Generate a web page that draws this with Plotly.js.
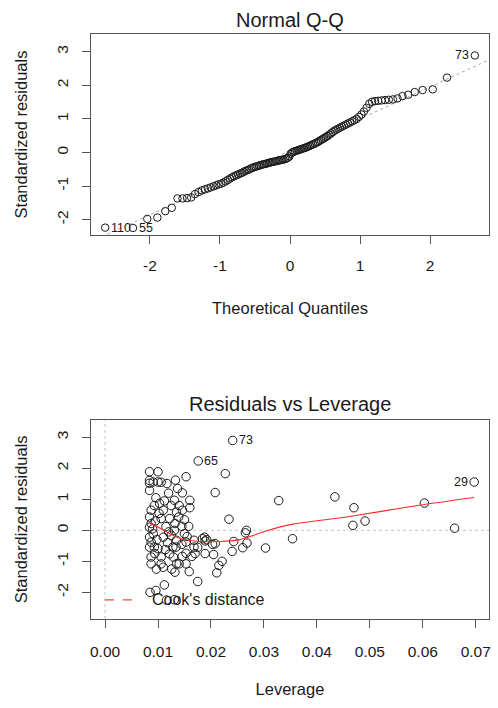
<!DOCTYPE html>
<html>
<head>
<meta charset="utf-8">
<script src="https://cdn.plot.ly/plotly-3.0.1.min.js"></script>
<style>html,body{margin:0;padding:0;background:#fff;}#chart{width:498px;height:708px;}</style>
</head>
<body>
<div id="chart"></div>
<script>
// ---------- Normal Q-Q data ----------
const qqTheo = [
-2.638,-2.241,-2.037,-1.893,-1.780,-1.687,-1.606,-1.534,-1.469,-1.410,
-1.356,-1.306,-1.258,-1.213,-1.171,-1.131,-1.092,-1.055,-1.019,-0.984,
-0.951,-0.918,-0.887,-0.856,-0.827,-0.798,-0.769,-0.742,-0.714,-0.688,
-0.662,-0.636,-0.611,-0.586,-0.561,-0.537,-0.513,-0.489,-0.466,-0.442,
-0.419,-0.396,-0.374,-0.351,-0.329,-0.307,-0.285,-0.264,-0.242,-0.220,
-0.199,-0.178,-0.157,-0.136,-0.115,-0.094,-0.073,-0.052,-0.031,-0.010,
0.010,0.031,0.052,0.073,0.094,0.115,0.136,0.157,0.178,0.199,
0.220,0.242,0.264,0.285,0.307,0.329,0.351,0.374,0.396,0.419,
0.442,0.466,0.489,0.513,0.537,0.561,0.586,0.611,0.636,0.662,
0.688,0.714,0.742,0.769,0.798,0.827,0.856,0.887,0.918,0.951,
0.984,1.019,1.055,1.092,1.131,1.171,1.213,1.258,1.306,1.356,
1.410,1.469,1.534,1.606,1.687,1.780,1.893,2.037,2.241,2.638
];
const qqResid = [
-2.24,-2.25,-1.98,-1.94,-1.75,-1.65,-1.37,-1.37,-1.36,-1.34,
-1.24,-1.18,-1.13,-1.10,-1.07,-1.04,-1.01,-0.98,-0.95,-0.93,
-0.90,-0.86,-0.82,-0.78,-0.74,-0.71,-0.68,-0.66,-0.63,-0.61,
-0.58,-0.55,-0.53,-0.51,-0.48,-0.46,-0.44,-0.42,-0.41,-0.39,
-0.38,-0.36,-0.35,-0.34,-0.33,-0.31,-0.30,-0.29,-0.28,-0.27,
-0.26,-0.25,-0.24,-0.23,-0.22,-0.21,-0.20,-0.18,-0.16,-0.12,
-0.04,0.00,0.02,0.04,0.05,0.07,0.08,0.10,0.11,0.13,
0.14,0.16,0.18,0.20,0.22,0.24,0.26,0.29,0.31,0.34,
0.37,0.40,0.43,0.46,0.49,0.53,0.57,0.61,0.65,0.68,
0.71,0.74,0.77,0.80,0.83,0.86,0.89,0.93,0.96,1.00,
1.06,1.13,1.22,1.33,1.45,1.51,1.53,1.54,1.55,1.56,
1.57,1.58,1.61,1.68,1.72,1.80,1.86,1.88,2.23,2.89
];
const qqLabelIndex = [0, 1, 119];
const qqLabelText = ['110', '55', '73'];
const qqLabelSide = ['right', 'right', 'left'];

// ---------- Residuals vs Leverage data ----------
const leverage = [
0.0241,0.0176,0.0227,0.0697,0.0153,0.0208,0.0328,0.0434,0.0470,0.0603,
0.0468,0.0491,0.0660,0.0234,0.0354,0.0303,0.0243,0.0240,0.0267,0.0265,
0.0268,0.0260,0.0208,0.0188,0.0192,0.0189,0.0205,0.0221,0.0215,0.0211,
0.0175,0.0159,0.0132,0.0112,0.0096,0.0085,0.0116,0.0131,0.0084,0.0100,
0.0084,0.0091,0.0100,0.0106,0.0117,0.0084,0.0137,0.0084,0.0133,0.0146,
0.0160,0.0131,0.0103,0.0087,0.0084,0.0110,0.0106,0.0122,0.0135,0.0132,
0.0087,0.0091,0.0084,0.0087,0.0093,0.0084,0.0110,0.0125,0.0135,0.0128,
0.0122,0.0100,0.0087,0.0106,0.0106,0.0087,0.0110,0.0129,0.0135,0.0160,
0.0146,0.0139,0.0150,0.0158,0.0145,0.0131,0.0150,0.0153,0.0168,0.0168,
0.0134,0.0153,0.0164,0.0146,0.0140,0.0153,0.0184,0.0189,0.0203,0.0095,
0.0090,0.0084,0.0098,0.0094,0.0115,0.0120,0.0118,0.0102,0.0096,0.0093,
0.0112,0.0125,0.0140,0.0120,0.0114,0.0097,0.0126,0.0145,0.0155,0.0175,
0.0170
];
const stdResid = [
2.90,2.24,1.83,1.56,1.73,1.22,0.96,1.08,0.73,0.88,
0.16,0.30,0.07,0.36,-0.27,-0.57,-0.36,-0.68,0.00,-0.08,
-0.41,-0.56,-0.43,-0.22,-0.30,-0.75,-0.78,-1.00,-1.13,-1.37,
-1.65,-1.33,-1.35,-1.76,-1.94,-2.00,-2.25,-2.24,1.89,1.89,
1.61,1.56,1.56,1.55,1.51,1.52,1.35,1.29,1.62,1.21,
0.97,0.97,0.87,0.65,0.43,0.65,0.38,0.38,0.59,0.22,
0.22,-0.11,-0.22,-0.38,-0.54,-0.54,-0.22,-0.16,-0.32,-0.54,
-0.76,-0.59,-0.86,-0.86,-1.08,-1.08,-1.19,-0.86,-1.08,0.73,
0.65,0.43,0.34,0.13,0.13,0.00,-0.11,-0.38,-0.32,-0.54,
-0.54,-0.74,-0.84,-0.84,-1.08,-1.08,-0.27,-0.34,-0.45,0.30,
0.05,0.10,-0.30,-0.75,0.12,-0.05,-0.40,0.55,1.05,0.80,
0.95,0.80,0.80,1.20,-0.62,-1.25,-1.25,-0.45,-0.20,-0.55,
-0.75
];
const levLabelIndex = [0, 1, 3];
const levLabelText = ['73', '65', '29'];
const levLabelSide = ['right', 'right', 'left'];

// smoothed (red) line
const smoothLev = [0.0084,0.0109,0.0140,0.0172,0.0216,0.0254,0.0279,0.0304,0.0355,0.0456,0.0581,0.0697];
const smoothRes = [0.25,0.02,-0.25,-0.35,-0.36,-0.30,-0.17,-0.02,0.20,0.43,0.78,1.06];

const qqXTicks = [-2,-1,0,1,2];
const qqXTickText = ['-2','-1','0','1','2'];
const yTicks = [-2,-1,0,1,2,3];
const yTickText = ['-2','-1','0','1','2','3'];
const levTicks = [0,0.01,0.02,0.03,0.04,0.05,0.06,0.07];
const levTickText = ['0.00','0.01','0.02','0.03','0.04','0.05','0.06','0.07'];

// ---------- build ----------
const FONT = 'Liberation Sans, Arial, Helvetica, sans-serif';
const INK = '#1a1a1a';
const qqXRange = [-2.84, 2.84];

function quantile7(arr, p) {
  const s = arr.slice().sort((a, b) => a - b);
  const h = (s.length - 1) * p;
  const lo = Math.floor(h);
  const hi = Math.min(lo + 1, s.length - 1);
  return s[lo] + (h - lo) * (s[hi] - s[lo]);
}
const qy1 = quantile7(qqResid, 0.25), qy3 = quantile7(qqResid, 0.75);
const qx1 = quantile7(qqTheo, 0.25), qx3 = quantile7(qqTheo, 0.75);
const slope = (qy3 - qy1) / (qx3 - qx1);
const intercept = qy1 - slope * qx1;

const marker = {symbol: 'circle-open', size: 7.5, color: INK, line: {width: 1, color: INK}};
const labelFont = {family: FONT, size: 12.5, color: INK};

const traces = [
  {
    x: qqXRange, y: qqXRange.map(v => intercept + slope * v),
    type: 'scatter', mode: 'lines', xaxis: 'x', yaxis: 'y',
    line: {color: '#a8a8a8', width: 1, dash: 'dot'}, hoverinfo: 'skip', showlegend: false
  },
  {
    x: qqTheo, y: qqResid, type: 'scatter', mode: 'markers', xaxis: 'x', yaxis: 'y',
    marker: marker, showlegend: false
  },
  {
    x: leverage, y: stdResid, type: 'scatter', mode: 'markers', xaxis: 'x2', yaxis: 'y2',
    marker: Object.assign({}, marker, {size: 8.5}), showlegend: false
  },
  {
    x: smoothLev, y: smoothRes, type: 'scatter', mode: 'lines', xaxis: 'x2', yaxis: 'y2',
    line: {color: '#ff2a2a', width: 1.1, shape: 'spline', smoothing: 0.6}, showlegend: false, hoverinfo: 'skip'
  }
];

function pointLabels(xs, ys, idx, texts, sides, xr, yr) {
  return idx.map((i, k) => ({
    x: xs[i], y: ys[i], xref: xr, yref: yr, text: texts[k], showarrow: false,
    xanchor: sides[k] === 'right' ? 'left' : 'right', yanchor: 'middle',
    xshift: sides[k] === 'right' ? 4 : -4, font: labelFont
  }));
}

const W = 498, H = 708;
const xDom = [91 / W, 489 / W];
const axisCommon = {
  showgrid: false, zeroline: false, showline: true, mirror: true,
  linecolor: '#555', linewidth: 1, ticks: 'outside', ticklen: 8, tickwidth: 1,
  tickcolor: '#555', tickfont: {family: FONT, size: 15.5, color: INK},
  fixedrange: true
};
const titleFont = {family: FONT, size: 16.5, color: INK};

const layout = {
  width: W, height: H,
  margin: {l: 0, r: 0, t: 0, b: 0},
  paper_bgcolor: '#fff', plot_bgcolor: '#fff',
  font: {family: FONT, color: INK},
  showlegend: false,
  xaxis: Object.assign({}, axisCommon, {
    domain: xDom, anchor: 'y', range: qqXRange,
    tickmode: 'array', tickvals: qqXTicks, ticktext: qqXTickText,
    ticklabelstandoff: 8,
    title: {text: 'Theoretical Quantiles', font: titleFont, standoff: 29}
  }),
  yaxis: Object.assign({}, axisCommon, {
    domain: [1 - 235 / H, 1 - 34 / H], anchor: 'x', range: [-2.46, 3.53],
    tickmode: 'array', tickvals: yTicks, ticktext: yTickText, tickangle: -90,
    ticklabelstandoff: 8,
    title: {text: 'Standardized residuals', font: titleFont, standoff: 22}
  }),
  xaxis2: Object.assign({}, axisCommon, {
    domain: xDom, anchor: 'y2', range: [-0.00265, 0.0725],
    tickmode: 'array', tickvals: levTicks, ticktext: levTickText,
    ticklabelstandoff: 10,
    title: {text: 'Leverage', font: titleFont, standoff: 24}
  }),
  yaxis2: Object.assign({}, axisCommon, {
    domain: [1 - 619 / H, 1 - 419.7 / H], anchor: 'x2', range: [-2.86, 3.57],
    tickmode: 'array', tickvals: yTicks, ticktext: yTickText, tickangle: -90,
    ticklabelstandoff: 8,
    title: {text: 'Standardized residuals', font: titleFont, standoff: 22}
  }),
  shapes: [
    {type: 'line', xref: 'x2', yref: 'y2 domain', x0: 0, x1: 0, y0: 0, y1: 1,
     line: {color: '#c4c4c4', width: 1, dash: 'dot'}, layer: 'below'},
    {type: 'line', xref: 'x2 domain', yref: 'y2', x0: 0, x1: 1, y0: 0, y1: 0,
     line: {color: '#c4c4c4', width: 1, dash: 'dot'}, layer: 'below'},
    {type: 'line', xref: 'x2 domain', yref: 'y2 domain', x0: 0.035, x1: 0.103, y0: 0.096, y1: 0.096,
     line: {color: '#ff4040', width: 1.2, dash: 'dash'}}
  ],
  annotations: [
    {text: 'Normal Q-Q', xref: 'x domain', yref: 'paper', x: 0.5, y: 1 - 20 / H,
     xanchor: 'center', yanchor: 'middle', showarrow: false, font: {family: FONT, size: 20, color: INK}},
    {text: 'Residuals vs Leverage', xref: 'x2 domain', yref: 'paper', x: 0.5, y: 1 - 404 / H,
     xanchor: 'center', yanchor: 'middle', showarrow: false, font: {family: FONT, size: 20, color: INK}},
    {text: "Cook's distance", xref: 'x2 domain', yref: 'y2 domain', x: 0.149, y: 0.096,
     xanchor: 'left', yanchor: 'middle', showarrow: false, font: {family: FONT, size: 16, color: INK}}
  ].concat(
    pointLabels(qqTheo, qqResid, qqLabelIndex, qqLabelText, qqLabelSide, 'x', 'y'),
    pointLabels(leverage, stdResid, levLabelIndex, levLabelText, levLabelSide, 'x2', 'y2')
  )
};

Plotly.newPlot('chart', traces, layout, {displayModeBar: false, staticPlot: true});
</script>
</body>
</html>
